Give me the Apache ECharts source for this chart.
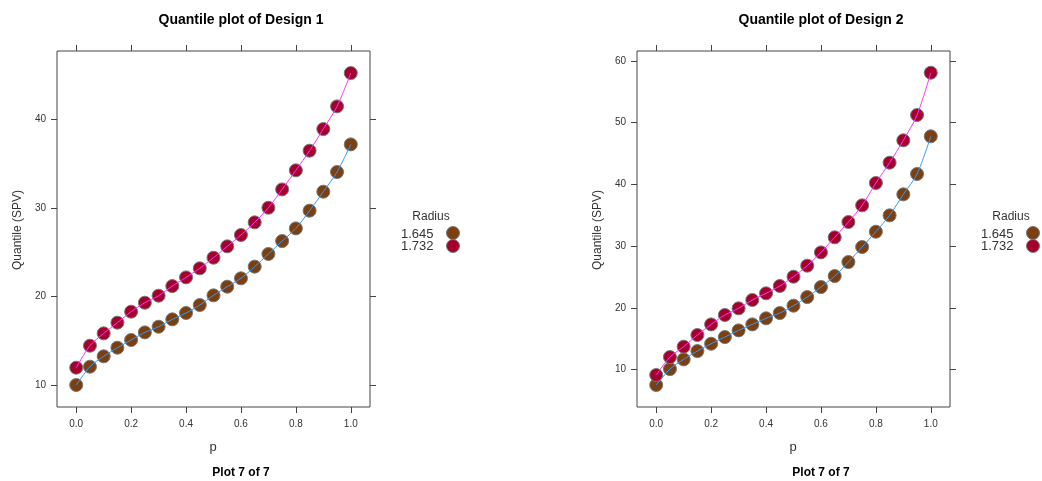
<!DOCTYPE html>
<html><head><meta charset="utf-8">
<script src="https://cdn.jsdelivr.net/npm/echarts@6/dist/echarts.min.js"></script>
<style>html,body{margin:0;padding:0;background:#fff}#c{width:1042px;height:481px}</style>
</head><body><div id="c"></div>
<script>
const pValues = [0,0.05,0.1,0.15,0.2,0.25,0.3,0.35,0.4,0.45,0.5,0.55,0.6,0.65,0.7,0.75,0.8,0.85,0.9,0.95,1.0];
const radii = ['1.645','1.732'];
const d1_r1645 = [10.0,12.07,13.24,14.21,15.08,15.94,16.58,17.41,18.13,19.03,20.12,21.1,22.04,23.36,24.79,26.25,27.68,29.68,31.82,34.04,37.16];
const d1_r1732 = [11.96,14.44,15.83,17.04,18.28,19.29,20.08,21.17,22.15,23.17,24.37,25.65,26.93,28.36,30.01,32.08,34.23,36.45,38.89,41.45,45.21];
const d2_r1645 = [7.52,10.1,11.67,13.02,14.21,15.29,16.37,17.34,18.32,19.18,20.37,21.77,23.39,25.17,27.44,29.87,32.35,35.0,38.4,41.7,47.8];
const d2_r1732 = [9.14,12.05,13.73,15.62,17.34,18.86,19.94,21.29,22.37,23.56,25.06,26.85,29.0,31.44,33.92,36.62,40.24,43.53,47.15,51.25,58.1];
const xTicks = [0,0.2,0.4,0.6,0.8,1.0];
const yTicks1 = [10,20,30,40];
const yTicks2 = [10,20,30,40,50,60];
const titles = ['Quantile plot of Design 1','Quantile plot of Design 2'];
const subTitle = 'Plot 7 of 7';
const xName = 'p';
const yName = 'Quantile (SPV)';
const legendTitle = 'Radius';

const pointColors = ['#7b3f10','#a5002d'];
const lineColors = ['#3399ff','#ff33ff'];
const axisCol = '#444';
const labelCol = '#333';

const panels = [
  {left:57, title:titles[0], yTicks:yTicks1, ymin:7.52, ymax:47.7, data:[d1_r1645,d1_r1732], cx:236, legX:401},
  {left:637, title:titles[1], yTicks:yTicks2, ymin:3.96, ymax:61.62, data:[d2_r1645,d2_r1732], cx:816, legX:981}
];

const grid=[], xAxis=[], yAxis=[], series=[], graphic=[], title=[];
panels.forEach((P,i)=>{
  grid.push({left:P.left, top:51, width:313, height:356, show:true, borderColor:axisCol, borderWidth:1, backgroundColor:'transparent'});
  const xBase = {type:'value', gridIndex:i, min:-0.07, max:1.07, splitLine:{show:false},
    axisLine:{show:false, onZero:false}, axisTick:{show:true, inside:false, length:6, lineStyle:{color:axisCol}, customValues:xTicks}};
  xAxis.push(Object.assign({}, xBase, {position:'bottom',
    axisLabel:{show:true, customValues:xTicks, margin:12, fontSize:10, color:labelCol, fontFamily:'Liberation Sans, Arial',
      formatter:v=>v.toFixed(1)}}));
  xAxis.push(Object.assign({}, xBase, {position:'top', axisLabel:{show:false}}));
  const yBase = {type:'value', gridIndex:i, min:P.ymin, max:P.ymax, splitLine:{show:false},
    axisLine:{show:false, onZero:false}, axisTick:{show:true, inside:false, length:6, lineStyle:{color:axisCol}, customValues:P.yTicks}};
  yAxis.push(Object.assign({}, yBase, {position:'left',
    axisLabel:{show:true, customValues:P.yTicks, margin:11, fontSize:10, color:labelCol, fontFamily:'Liberation Sans, Arial'}}));
  yAxis.push(Object.assign({}, yBase, {position:'right', axisLabel:{show:false}}));
  P.data.forEach((vals,k)=>{
    const pts = pValues.map((p,j)=>[p,vals[j]]);
    series.push({type:'scatter', name:radii[k], xAxisIndex:2*i, yAxisIndex:2*i, data:pts, symbol:'circle', symbolSize:13,
      itemStyle:{color:pointColors[k], borderColor:'#777', borderWidth:1, opacity:1}, z:2, silent:true});
  });
  P.data.forEach((vals,k)=>{
    const pts = pValues.map((p,j)=>[p,vals[j]]);
    series.push({type:'line', xAxisIndex:2*i, yAxisIndex:2*i, data:pts, showSymbol:false, smooth:0.3,
      lineStyle:{color:lineColors[k], width:1}, z:5, silent:true});
  });
  title.push({text:P.title, left:P.cx, top:8, textAlign:'center',
    textStyle:{fontSize:14, fontWeight:'bold', color:'#000', fontFamily:'Liberation Sans, Arial'}});
  title.push({text:subTitle, left:P.cx, top:462, textAlign:'center',
    textStyle:{fontSize:12, fontWeight:'bold', color:'#000', fontFamily:'Liberation Sans, Arial'}});
  graphic.push({type:'text', x:P.left+156, y:447, style:{text:xName, fontSize:13, fill:labelCol, align:'center', verticalAlign:'middle', fontFamily:'Liberation Sans, Arial'}});
  graphic.push({type:'text', x:P.left-39, y:230, rotation:Math.PI/2, style:{text:yName, fontSize:12, fill:labelCol, align:'center', verticalAlign:'middle', fontFamily:'Liberation Sans, Arial'}});
  graphic.push({type:'text', x:P.legX+30, y:217, style:{text:legendTitle, fontSize:12, fill:labelCol, align:'center', verticalAlign:'middle', fontFamily:'Liberation Sans, Arial'}});
  radii.forEach((r,k)=>{
    graphic.push({type:'text', x:P.legX, y:234+12.5*k, style:{text:r, fontSize:13, fill:labelCol, align:'left', verticalAlign:'middle', fontFamily:'Liberation Sans, Arial'}});
    graphic.push({type:'circle', shape:{cx:P.legX+52, cy:233+13*k, r:6.5}, style:{fill:pointColors[k], stroke:'#777', lineWidth:1}});
  });
});

const chart = echarts.init(document.getElementById('c'), null, {renderer:'canvas'});
chart.setOption({animation:false, backgroundColor:'#fff', title, grid, xAxis, yAxis, series, graphic});
</script></body></html>
